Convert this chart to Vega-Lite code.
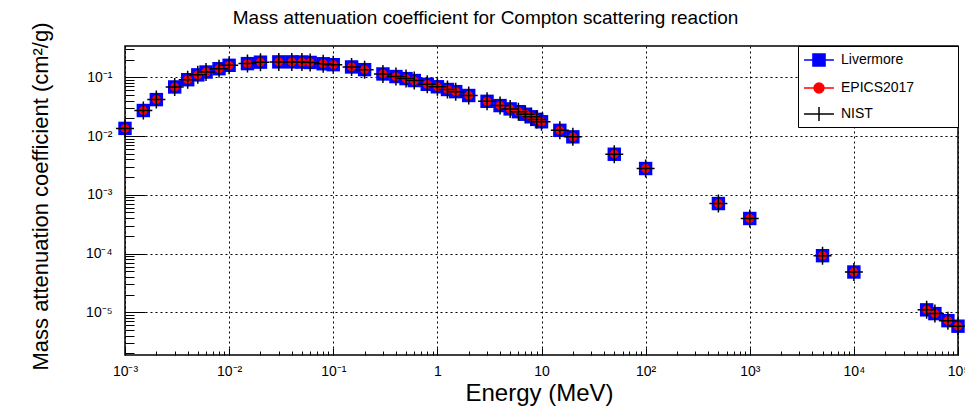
{
  "$schema": "https://vega.github.io/schema/vega-lite/v6.json",
  "autosize": {"type": "none"},
  "width": 833,
  "height": 309,
  "padding": {"left": 125, "top": 46, "right": 7, "bottom": 54},
  "background": "white",
  "title": {"text": "Mass attenuation coefficient for Compton scattering reaction", "fontSize": 19, "font": "Liberation Sans", "fontWeight": "normal", "color": "black", "anchor": "middle", "dx": -56, "offset": -6},
  "config": {"view": {"stroke": "black", "strokeWidth": 1.5}},
  "data": {"values": [
    {"E":0.001,"mu":0.0135,"series":"Livermore"},{"E":0.0015,"mu":0.0272,"series":"Livermore"},{"E":0.002,"mu":0.0417,"series":"Livermore"},{"E":0.003,"mu":0.0685,"series":"Livermore"},{"E":0.004,"mu":0.091,"series":"Livermore"},{"E":0.005,"mu":0.11,"series":"Livermore"},{"E":0.006,"mu":0.123,"series":"Livermore"},{"E":0.008,"mu":0.14,"series":"Livermore"},{"E":0.01,"mu":0.16,"series":"Livermore"},{"E":0.015,"mu":0.171,"series":"Livermore"},{"E":0.02,"mu":0.181,"series":"Livermore"},{"E":0.03,"mu":0.183,"series":"Livermore"},{"E":0.04,"mu":0.183,"series":"Livermore"},{"E":0.05,"mu":0.182,"series":"Livermore"},{"E":0.06,"mu":0.179,"series":"Livermore"},{"E":0.08,"mu":0.17,"series":"Livermore"},{"E":0.1,"mu":0.164,"series":"Livermore"},{"E":0.15,"mu":0.15,"series":"Livermore"},{"E":0.2,"mu":0.135,"series":"Livermore"},{"E":0.3,"mu":0.114,"series":"Livermore"},{"E":0.4,"mu":0.103,"series":"Livermore"},{"E":0.5,"mu":0.095,"series":"Livermore"},{"E":0.6,"mu":0.088,"series":"Livermore"},{"E":0.8,"mu":0.076,"series":"Livermore"},{"E":1,"mu":0.069,"series":"Livermore"},{"E":1.25,"mu":0.062,"series":"Livermore"},{"E":1.5,"mu":0.057,"series":"Livermore"},{"E":2,"mu":0.049,"series":"Livermore"},{"E":3,"mu":0.039,"series":"Livermore"},{"E":4,"mu":0.033,"series":"Livermore"},{"E":5,"mu":0.029,"series":"Livermore"},{"E":6,"mu":0.026,"series":"Livermore"},{"E":7,"mu":0.0235,"series":"Livermore"},{"E":8,"mu":0.0213,"series":"Livermore"},{"E":9,"mu":0.0192,"series":"Livermore"},{"E":10,"mu":0.0175,"series":"Livermore"},{"E":15,"mu":0.0125,"series":"Livermore"},{"E":20,"mu":0.0097,"series":"Livermore"},{"E":50,"mu":0.0049,"series":"Livermore"},{"E":100,"mu":0.0028,"series":"Livermore"},{"E":500,"mu":0.00071,"series":"Livermore"},{"E":1000,"mu":0.000395,"series":"Livermore"},{"E":5000,"mu":0.000092,"series":"Livermore"},{"E":10000,"mu":0.0000485,"series":"Livermore"},{"E":50000,"mu":0.000011,"series":"Livermore"},{"E":60000,"mu":0.0000095,"series":"Livermore"},{"E":80000,"mu":0.0000072,"series":"Livermore"},{"E":100000,"mu":0.0000058,"series":"Livermore"},
    {"E":0.001,"mu":0.0135,"series":"EPICS2017"},{"E":0.0015,"mu":0.0272,"series":"EPICS2017"},{"E":0.002,"mu":0.0417,"series":"EPICS2017"},{"E":0.003,"mu":0.0685,"series":"EPICS2017"},{"E":0.004,"mu":0.091,"series":"EPICS2017"},{"E":0.005,"mu":0.11,"series":"EPICS2017"},{"E":0.006,"mu":0.123,"series":"EPICS2017"},{"E":0.008,"mu":0.14,"series":"EPICS2017"},{"E":0.01,"mu":0.16,"series":"EPICS2017"},{"E":0.015,"mu":0.171,"series":"EPICS2017"},{"E":0.02,"mu":0.181,"series":"EPICS2017"},{"E":0.03,"mu":0.183,"series":"EPICS2017"},{"E":0.04,"mu":0.183,"series":"EPICS2017"},{"E":0.05,"mu":0.182,"series":"EPICS2017"},{"E":0.06,"mu":0.179,"series":"EPICS2017"},{"E":0.08,"mu":0.17,"series":"EPICS2017"},{"E":0.1,"mu":0.164,"series":"EPICS2017"},{"E":0.15,"mu":0.15,"series":"EPICS2017"},{"E":0.2,"mu":0.135,"series":"EPICS2017"},{"E":0.3,"mu":0.114,"series":"EPICS2017"},{"E":0.4,"mu":0.103,"series":"EPICS2017"},{"E":0.5,"mu":0.095,"series":"EPICS2017"},{"E":0.6,"mu":0.088,"series":"EPICS2017"},{"E":0.8,"mu":0.076,"series":"EPICS2017"},{"E":1,"mu":0.069,"series":"EPICS2017"},{"E":1.25,"mu":0.062,"series":"EPICS2017"},{"E":1.5,"mu":0.057,"series":"EPICS2017"},{"E":2,"mu":0.049,"series":"EPICS2017"},{"E":3,"mu":0.039,"series":"EPICS2017"},{"E":4,"mu":0.033,"series":"EPICS2017"},{"E":5,"mu":0.029,"series":"EPICS2017"},{"E":6,"mu":0.026,"series":"EPICS2017"},{"E":7,"mu":0.0235,"series":"EPICS2017"},{"E":8,"mu":0.0213,"series":"EPICS2017"},{"E":9,"mu":0.0192,"series":"EPICS2017"},{"E":10,"mu":0.0175,"series":"EPICS2017"},{"E":15,"mu":0.0125,"series":"EPICS2017"},{"E":20,"mu":0.0097,"series":"EPICS2017"},{"E":50,"mu":0.0049,"series":"EPICS2017"},{"E":100,"mu":0.0028,"series":"EPICS2017"},{"E":500,"mu":0.00071,"series":"EPICS2017"},{"E":1000,"mu":0.000395,"series":"EPICS2017"},{"E":5000,"mu":0.000092,"series":"EPICS2017"},{"E":10000,"mu":0.0000485,"series":"EPICS2017"},{"E":50000,"mu":0.000011,"series":"EPICS2017"},{"E":60000,"mu":0.0000095,"series":"EPICS2017"},{"E":80000,"mu":0.0000072,"series":"EPICS2017"},{"E":100000,"mu":0.0000058,"series":"EPICS2017"},
    {"E":0.001,"mu":0.0135,"series":"NIST"},{"E":0.0015,"mu":0.0272,"series":"NIST"},{"E":0.002,"mu":0.0417,"series":"NIST"},{"E":0.003,"mu":0.0685,"series":"NIST"},{"E":0.004,"mu":0.091,"series":"NIST"},{"E":0.005,"mu":0.11,"series":"NIST"},{"E":0.006,"mu":0.123,"series":"NIST"},{"E":0.008,"mu":0.14,"series":"NIST"},{"E":0.01,"mu":0.16,"series":"NIST"},{"E":0.015,"mu":0.171,"series":"NIST"},{"E":0.02,"mu":0.181,"series":"NIST"},{"E":0.03,"mu":0.183,"series":"NIST"},{"E":0.04,"mu":0.183,"series":"NIST"},{"E":0.05,"mu":0.182,"series":"NIST"},{"E":0.06,"mu":0.179,"series":"NIST"},{"E":0.08,"mu":0.17,"series":"NIST"},{"E":0.1,"mu":0.164,"series":"NIST"},{"E":0.15,"mu":0.15,"series":"NIST"},{"E":0.2,"mu":0.135,"series":"NIST"},{"E":0.3,"mu":0.114,"series":"NIST"},{"E":0.4,"mu":0.103,"series":"NIST"},{"E":0.5,"mu":0.095,"series":"NIST"},{"E":0.6,"mu":0.088,"series":"NIST"},{"E":0.8,"mu":0.076,"series":"NIST"},{"E":1,"mu":0.069,"series":"NIST"},{"E":1.25,"mu":0.062,"series":"NIST"},{"E":1.5,"mu":0.057,"series":"NIST"},{"E":2,"mu":0.049,"series":"NIST"},{"E":3,"mu":0.039,"series":"NIST"},{"E":4,"mu":0.033,"series":"NIST"},{"E":5,"mu":0.029,"series":"NIST"},{"E":6,"mu":0.026,"series":"NIST"},{"E":7,"mu":0.0235,"series":"NIST"},{"E":8,"mu":0.0213,"series":"NIST"},{"E":9,"mu":0.0192,"series":"NIST"},{"E":10,"mu":0.0175,"series":"NIST"},{"E":15,"mu":0.0125,"series":"NIST"},{"E":20,"mu":0.0097,"series":"NIST"},{"E":50,"mu":0.0049,"series":"NIST"},{"E":100,"mu":0.0028,"series":"NIST"},{"E":500,"mu":0.00071,"series":"NIST"},{"E":1000,"mu":0.000395,"series":"NIST"},{"E":5000,"mu":0.000092,"series":"NIST"},{"E":10000,"mu":0.0000485,"series":"NIST"},{"E":50000,"mu":0.000011,"series":"NIST"},{"E":60000,"mu":0.0000095,"series":"NIST"},{"E":80000,"mu":0.0000072,"series":"NIST"},{"E":100000,"mu":0.0000058,"series":"NIST"}
  ]},
  "encoding": {
    "x": {"field": "E", "type": "quantitative",
      "scale": {"type": "log", "domain": [0.001, 100000], "nice": false},
      "axis": {
        "values": [0.001,0.002,0.003,0.004,0.005,0.006,0.007,0.008,0.009,0.01,0.02,0.03,0.04,0.05,0.06,0.07,0.08,0.09,0.1,0.2,0.3,0.4,0.5,0.6,0.7,0.8,0.9,1,2,3,4,5,6,7,8,9,10,20,30,40,50,60,70,80,90,100,200,300,400,500,600,700,800,900,1000,2000,3000,4000,5000,6000,7000,8000,9000,10000,20000,30000,40000,50000,60000,70000,80000,90000,100000],
        "labelExpr": "abs(log(datum.value)/LN10 - round(log(datum.value)/LN10)) > 0.001 ? '' : (round(log(datum.value)/LN10) == -3 ? '10⁻³' : round(log(datum.value)/LN10) == -2 ? '10⁻²' : round(log(datum.value)/LN10) == -1 ? '10⁻¹' : round(log(datum.value)/LN10) == 0 ? '1' : round(log(datum.value)/LN10) == 1 ? '10' : round(log(datum.value)/LN10) == 2 ? '10²' : round(log(datum.value)/LN10) == 3 ? '10³' : round(log(datum.value)/LN10) == 4 ? '10⁴' : '10⁵')",
        "labelOverlap": false, "labelFlush": false,
        "tickSize": {"condition": {"test": "abs(log(datum.value)/LN10 - round(log(datum.value)/LN10)) < 0.001", "value": -7}, "value": -4},
        "tickColor": "black", "tickWidth": 1,
        "grid": true, "gridColor": "black", "gridDash": [2, 3], "gridWidth": 1,
        "gridOpacity": {"condition": {"test": "abs(log(datum.value)/LN10 - round(log(datum.value)/LN10)) < 0.001", "value": 1}, "value": 0},
        "domain": false,
        "labelPadding": 16, "labelFontSize": 14, "labelFont": "Liberation Sans", "labelColor": "black",
        "title": "Energy (MeV)", "titleFontSize": 24, "titleFont": "Liberation Sans", "titleFontWeight": "normal", "titleColor": "black",
        "titleX": 414, "titleY": 38, "titleBaseline": "middle", "titleAlign": "center"
      }
    },
    "y": {"field": "mu", "type": "quantitative",
      "scale": {"type": "log", "domain": [0.000001875, 0.341], "nice": false},
      "axis": {
        "values": [0.000002,0.000003,0.000004,0.000005,0.000006,0.000007,0.000008,0.000009,0.00001,0.00002,0.00003,0.00004,0.00005,0.00006,0.00007,0.00008,0.00009,0.0001,0.0002,0.0003,0.0004,0.0005,0.0006,0.0007,0.0008,0.0009,0.001,0.002,0.003,0.004,0.005,0.006,0.007,0.008,0.009,0.01,0.02,0.03,0.04,0.05,0.06,0.07,0.08,0.09,0.1,0.2,0.3],
        "labelExpr": "abs(log(datum.value)/LN10 - round(log(datum.value)/LN10)) > 0.001 ? '' : (round(log(datum.value)/LN10) == -5 ? '10⁻⁵' : round(log(datum.value)/LN10) == -4 ? '10⁻⁴' : round(log(datum.value)/LN10) == -3 ? '10⁻³' : round(log(datum.value)/LN10) == -2 ? '10⁻²' : round(log(datum.value)/LN10) == -1 ? '10⁻¹' : '')",
        "labelOverlap": false, "labelFlush": false,
        "tickSize": {"condition": {"test": "abs(log(datum.value)/LN10 - round(log(datum.value)/LN10)) < 0.001", "value": -20}, "value": -9},
        "tickColor": "black", "tickWidth": 1,
        "grid": true, "gridColor": "black", "gridDash": [2, 3], "gridWidth": 1,
        "gridOpacity": {"condition": {"test": "abs(log(datum.value)/LN10 - round(log(datum.value)/LN10)) < 0.001", "value": 1}, "value": 0},
        "domain": false,
        "labelPadding": 33, "labelFontSize": 14, "labelFont": "Liberation Sans", "labelColor": "black",
        "title": "Mass attenuation coefficient (cm²/g)", "titleFontSize": 22, "titleFont": "Liberation Sans", "titleFontWeight": "normal", "titleColor": "black",
        "titleX": -85, "titleY": 150, "titleBaseline": "middle", "titleAlign": "center", "titleAngle": -90
      }
    }
  },
  "layer": [
    {"transform": [{"filter": "datum.series === 'Livermore'"}],
     "mark": {"type": "point", "shape": "square", "filled": true, "size": 180, "opacity": 1, "color": "#0000ff"}},
    {"transform": [{"filter": "datum.series === 'EPICS2017'"}],
     "mark": {"type": "point", "shape": "circle", "filled": true, "size": 78, "opacity": 1, "color": "#ff0000"}},
    {"transform": [{"filter": "datum.series === 'NIST'"}],
     "mark": {"type": "point", "shape": "M-1,0H1M0,-1V1", "filled": false, "size": 324, "strokeWidth": 1.5, "opacity": 1, "color": "#000000"}},
    {"transform": [{"filter": "false"}],
     "mark": {"type": "point", "filled": true, "opacity": 1, "strokeWidth": 1.5},
     "encoding": {
       "color": {"field": "series", "type": "nominal",
         "scale": {"domain": ["Livermore", "EPICS2017", "NIST"], "range": ["#0000ff", "#ff0000", "#000000"]},
         "legend": {"title": "\u2800\u2800\u2800\u2800\u2800\u2800", "titleOrient": "right", "titleFontSize": 10, "titlePadding": 0, "titleLimit": 1000, "titleColor": "white", "orient": "top-right", "offset": 0, "padding": 2, "rowPadding": 6, "symbolSize": 484, "symbolOffset": 7, "labelOffset": 10, "symbolStrokeWidth": 1.5, "symbolOpacity": 1, "labelFont": "Liberation Sans", "labelFontSize": 14, "labelColor": "black", "strokeColor": "black", "fillColor": "white", "cornerRadius": 0}},
       "stroke": {"field": "series", "type": "nominal",
         "scale": {"domain": ["Livermore", "EPICS2017", "NIST"], "range": ["#0000ff", "#ff0000", "#000000"]},
         "legend": {"title": "\u2800\u2800\u2800\u2800\u2800\u2800", "titleOrient": "right", "titleFontSize": 10, "titlePadding": 0, "titleLimit": 1000, "titleColor": "white", "orient": "top-right", "offset": 0, "padding": 2, "rowPadding": 6, "symbolSize": 484, "symbolOffset": 7, "labelOffset": 10, "symbolStrokeWidth": 1.5, "symbolOpacity": 1, "labelFont": "Liberation Sans", "labelFontSize": 14, "labelColor": "black", "strokeColor": "black", "fillColor": "white", "cornerRadius": 0}},
       "shape": {"field": "series", "type": "nominal",
         "scale": {"domain": ["Livermore", "EPICS2017", "NIST"], "range": ["M-1.36,0H1.36M-0.55,-0.55H0.55V0.55H-0.55Z", "M-1.36,0H1.36M0.45,0A0.45,0.45,0,1,1,-0.45,0A0.45,0.45,0,1,1,0.45,0Z", "M-1.36,0H1.36M0,-0.64V0.64"]},
         "legend": {"title": "\u2800\u2800\u2800\u2800\u2800\u2800", "titleOrient": "right", "titleFontSize": 10, "titlePadding": 0, "titleLimit": 1000, "titleColor": "white", "orient": "top-right", "offset": 0, "padding": 2, "rowPadding": 6, "symbolSize": 484, "symbolOffset": 7, "labelOffset": 10, "symbolStrokeWidth": 1.5, "symbolOpacity": 1, "labelFont": "Liberation Sans", "labelFontSize": 14, "labelColor": "black", "strokeColor": "black", "fillColor": "white", "cornerRadius": 0}}
     }}
  ]
}
